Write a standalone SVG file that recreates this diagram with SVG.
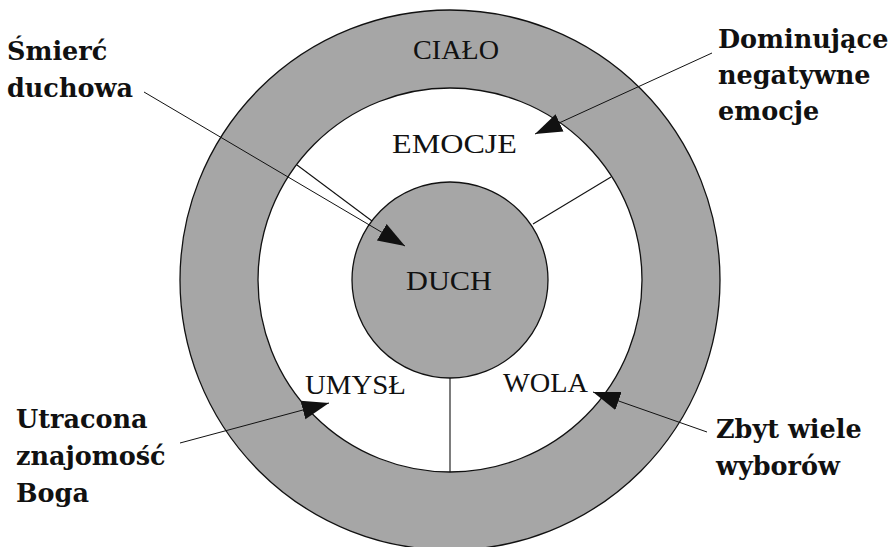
<svg xmlns="http://www.w3.org/2000/svg" width="895" height="547" viewBox="0 0 895 547">
  <style>
    .ring { fill: #a6a6a6; stroke: #111; stroke-width: 1.3; }
    .hole { fill: #ffffff; stroke: #111; stroke-width: 1.3; }
    .spoke { stroke: #111; stroke-width: 1.1; fill: none; }
    .lbl { font-family: "Liberation Serif", "Times New Roman", serif; font-size: 28px; fill: #111; }
    .note { font-family: "DejaVu Serif", "Liberation Serif", serif; font-weight: bold; font-size: 25.5px; fill: #111; }
    .conn line { stroke: #111; stroke-width: 1; marker-end: url(#head); }
  </style>
  <defs>
    <marker id="head" markerUnits="userSpaceOnUse" markerWidth="30" markerHeight="22" viewBox="0 -11 30 22" refX="27" refY="0" orient="auto">
      <path d="M0,-9.5 L27,0 L0,9.5 Z" fill="#111"/>
    </marker>
  </defs>

  <!-- body ring -->
  <g id="cialo">
    <circle class="ring" cx="450" cy="280" r="270"/>
    <text class="lbl" x="413" y="59" textLength="86" lengthAdjust="spacingAndGlyphs">CIAŁO</text>
  </g>

  <!-- soul area with its three sectors -->
  <g id="dusza">
    <circle class="hole" cx="450" cy="280" r="192"/>
    <line class="spoke" x1="533" y1="224" x2="611" y2="177"/>
    <line class="spoke" x1="372" y1="221" x2="297" y2="165"/>
    <line class="spoke" x1="450" y1="378" x2="450" y2="472"/>
  </g>
  <g id="emocje">
    <text class="lbl" x="392" y="153" textLength="125" lengthAdjust="spacingAndGlyphs">EMOCJE</text>
  </g>
  <g id="umysl">
    <text class="lbl" x="305" y="394" textLength="101" lengthAdjust="spacingAndGlyphs">UMYSŁ</text>
  </g>
  <g id="wola">
    <text class="lbl" x="503" y="392" textLength="85" lengthAdjust="spacingAndGlyphs">WOLA</text>
  </g>

  <!-- spirit core -->
  <g id="duch">
    <circle class="ring" cx="450" cy="280" r="98"/>
    <text class="lbl" x="406" y="290" textLength="86" lengthAdjust="spacingAndGlyphs">DUCH</text>
  </g>

  <!-- side notes -->
  <g id="smierc">
    <text class="note" x="7" y="60">Śmierć</text>
    <text class="note" x="7" y="97">duchowa</text>
  </g>
  <g id="dominujace">
    <text class="note" x="718" y="48">Dominujące</text>
    <text class="note" x="718" y="84">negatywne</text>
    <text class="note" x="718" y="120">emocje</text>
  </g>
  <g id="utracona">
    <text class="note" x="16" y="428">Utracona</text>
    <text class="note" x="16" y="465">znajomość</text>
    <text class="note" x="16" y="502">Boga</text>
  </g>
  <g id="zbyt">
    <text class="note" x="716" y="438">Zbyt wiele</text>
    <text class="note" x="716" y="475">wyborów</text>
  </g>

  <!-- pointers from notes -->
  <g id="connectors" class="conn">
    <line x1="144" y1="92" x2="405" y2="246"/>
    <line x1="712" y1="53" x2="535" y2="134"/>
    <line x1="180" y1="443" x2="329" y2="403"/>
    <line x1="707" y1="432" x2="593" y2="392"/>
  </g>
</svg>
